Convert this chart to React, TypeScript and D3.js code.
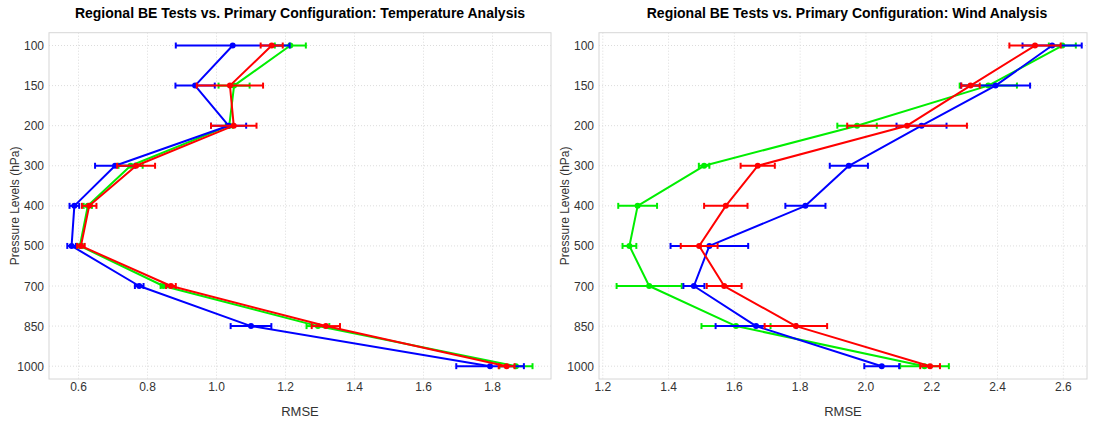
import React from "react";
import * as d3 from "d3";

const levels = [100, 150, 200, 300, 400, 500, 700, 850, 1000];

const tempRed = [1.16, 1.039, 1.05, 0.767, 0.631, 0.607, 0.868, 1.317, 1.841];
const tempRedErr = [0.032, 0.096, 0.066, 0.055, 0.021, 0.011, 0.014, 0.041, 0.023];
const tempGreen = [1.214, 1.051, 1.037, 0.751, 0.627, 0.604, 0.846, 1.294, 1.868];
const tempGreenErr = [0.045, 0.045, 0.01, 0.035, 0.012, 0.008, 0.008, 0.033, 0.048];
const tempBlue = [1.047, 0.938, 1.035, 0.706, 0.588, 0.58, 0.776, 1.1, 1.793];
const tempBlueErr = [0.165, 0.057, 0.051, 0.058, 0.014, 0.0125, 0.0125, 0.059, 0.098];

const windRed = [2.514, 2.318, 2.125, 1.671, 1.574, 1.493, 1.569, 1.787, 2.195];
const windRedErr = [0.078, 0.028, 0.182, 0.052, 0.066, 0.056, 0.053, 0.095, 0.03];
const windGreen = [2.597, 2.372, 1.973, 1.508, 1.306, 1.281, 1.341, 1.605, 2.178];
const windGreenErr = [0.041, 0.087, 0.06, 0.016, 0.059, 0.021, 0.099, 0.105, 0.074];
const windBlue = [2.566, 2.394, 2.169, 1.948, 1.816, 1.524, 1.477, 1.666, 2.048];
const windBlueErr = [0.09, 0.105, 0.076, 0.058, 0.061, 0.118, 0.032, 0.123, 0.053];

const tempTicks = [0.6, 0.8, 1.0, 1.2, 1.4, 1.6, 1.8];
const windTicks = [1.2, 1.4, 1.6, 1.8, 2.0, 2.2, 2.4, 2.6];

const FONT = "'Liberation Sans', Arial, Helvetica, sans-serif";

type Series = { color: string; values: number[]; errs: number[] };

function Panel(props: {
  x0: number;
  x1: number;
  domain: [number, number];
  ticks: number[];
  title: string;
  titleX: number;
  series: Series[];
}) {
  const { x0, x1, domain, ticks, title, titleX, series } = props;
  const top = 32.7;
  const bottom = 379;
  const x = d3.scaleLinear().domain(domain).range([x0, x1]);
  const y = d3.scaleLinear().domain([-0.32, levels.length - 1 + 0.32]).range([top, bottom]);
  const fmt = d3.format(".1f");
  const line = d3
    .line<number>()
    .x((d) => x(d))
    .y((_, i) => y(i));
  const cx = (x0 + x1) / 2;
  return (
    <g>
      <text x={titleX} y={18} textAnchor="middle" fontFamily={FONT} fontSize={14} fontWeight="bold" fill="#000">
        {title}
      </text>
      <rect x={x0} y={top} width={x1 - x0} height={bottom - top} fill="#fff" stroke="#d6d6d6" strokeWidth={1} />
      {ticks.map((t) => (
        <line key={"gx" + t} x1={x(t)} x2={x(t)} y1={top} y2={bottom} stroke="#dcdcdc" strokeWidth={1} strokeDasharray="1,2" />
      ))}
      {levels.map((l, i) => (
        <line key={"gy" + l} x1={x0} x2={x1} y1={y(i)} y2={y(i)} stroke="#dcdcdc" strokeWidth={1} strokeDasharray="1,2" />
      ))}
      {ticks.map((t) => (
        <text key={"tx" + t} x={x(t)} y={391} textAnchor="middle" fontFamily={FONT} fontSize={12} fill="#333">
          {fmt(t)}
        </text>
      ))}
      {levels.map((l, i) => (
        <text key={"ty" + l} x={x0 - 5} y={y(i) + 4.5} textAnchor="end" fontFamily={FONT} fontSize={12} fill="#333">
          {l}
        </text>
      ))}
      <text x={cx} y={416} textAnchor="middle" fontFamily={FONT} fontSize={13} fill="#333">
        RMSE
      </text>
      <text
        transform={`translate(${x0 - 30},${(top + bottom) / 2}) rotate(-90)`}
        textAnchor="middle"
        fontFamily={FONT}
        fontSize={12}
        fill="#333"
      >
        Pressure Levels (hPa)
      </text>
      {series.map((s, si) => (
        <g key={"s" + si}>
          <path d={line(s.values) || ""} fill="none" stroke={s.color} strokeWidth={2} strokeLinejoin="round" />
          {s.values.map((v, i) => (
            <g key={"e" + i}>
              <line x1={x(v - s.errs[i])} x2={x(v + s.errs[i])} y1={y(i)} y2={y(i)} stroke={s.color} strokeWidth={2} />
              <line x1={x(v - s.errs[i])} x2={x(v - s.errs[i])} y1={y(i) - 3} y2={y(i) + 3} stroke={s.color} strokeWidth={2} />
              <line x1={x(v + s.errs[i])} x2={x(v + s.errs[i])} y1={y(i) - 3} y2={y(i) + 3} stroke={s.color} strokeWidth={2} />
              <circle cx={x(v)} cy={y(i)} r={3} fill={s.color} />
            </g>
          ))}
        </g>
      ))}
    </g>
  );
}

export default function App() {
  const tempSeries: Series[] = [
    { color: "#00ee00", values: tempGreen, errs: tempGreenErr },
    { color: "#0000ff", values: tempBlue, errs: tempBlueErr },
    { color: "#ff0000", values: tempRed, errs: tempRedErr },
  ];
  const windSeries: Series[] = [
    { color: "#00ee00", values: windGreen, errs: windGreenErr },
    { color: "#0000ff", values: windBlue, errs: windBlueErr },
    { color: "#ff0000", values: windRed, errs: windRedErr },
  ];
  return (
    <svg
      width={1094}
      height={423}
      style={{ position: "absolute", left: 0, top: 0, background: "#fff" }}
    >
      <rect x={0} y={0} width={1094} height={423} fill="#fff" />
      <Panel
        x0={49}
        x1={551}
        domain={[0.5145, 1.9696]}
        ticks={tempTicks}
        title="Regional BE Tests vs. Primary Configuration: Temperature Analysis"
        titleX={300}
        series={tempSeries}
      />
      <Panel
        x0={599}
        x1={1087}
        domain={[1.1885, 2.672]}
        ticks={windTicks}
        title="Regional BE Tests vs. Primary Configuration: Wind Analysis"
        titleX={847}
        series={windSeries}
      />
    </svg>
  );
}
